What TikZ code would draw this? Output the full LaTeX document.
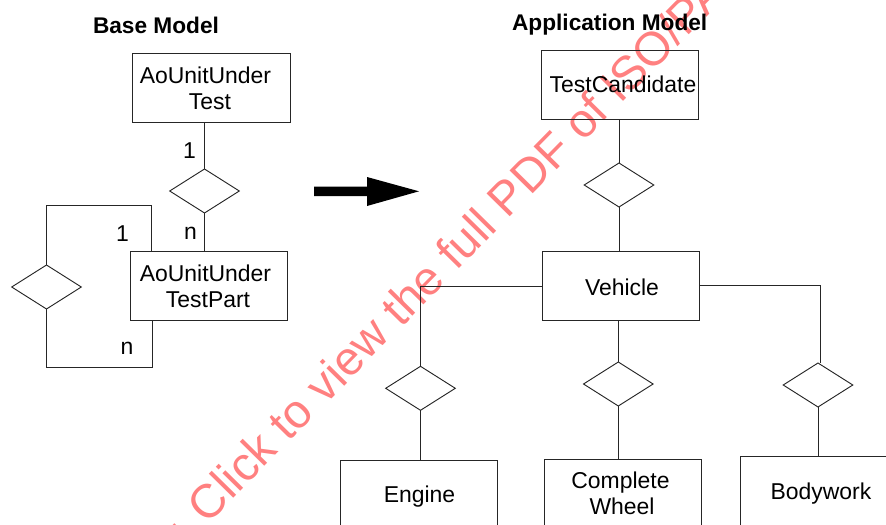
\documentclass[tikz,border=0pt]{standalone}
\usepackage{fontspec}
\setmainfont{Liberation Sans}
\usetikzlibrary{shapes.geometric}
\tikzset{
  every node/.style={inner sep=0pt,outer sep=0pt,font=\fontsize{17.2}{20}\selectfont},
  ln/.style={draw=black!85,line width=0.7pt},
  rel/.style={diamond,ln,minimum width=69.6*0.75pt,minimum height=44*0.75pt,aspect=1.58},
  txt/.style={anchor=base},
  headtxt/.style={anchor=base,font=\fontsize{17}{20}\selectfont\bfseries},
}
\begin{document}
\begin{tikzpicture}[x=0.75pt,y=-0.75pt]
\useasboundingbox (0,0) rectangle (886,525);
\clip (0,0) rectangle (886,525);
% watermark
\node[anchor=base west,rotate=45.5,text=red!50,font=\fontsize{35.5}{40}\selectfont] (wm) at (186,547) {: Click to view the full PDF of ISO/PA};
% boxes
\node[rectangle,ln,minimum width=157.5*0.75pt,minimum height=69*0.75pt] (aut) at (211.5,88.2) {};
\node[rectangle,ln,minimum width=157*0.75pt,minimum height=69*0.75pt] (autp) at (208.8,286.2) {};
\node[rectangle,ln,minimum width=157.4*0.75pt,minimum height=69*0.75pt] (tc) at (620,84.5) {};
\node[rectangle,ln,minimum width=157.3*0.75pt,minimum height=69*0.75pt] (veh) at (620.7,286.2) {};
\node[rectangle,ln,minimum width=157.3*0.75pt,minimum height=90*0.75pt] (eng) at (418.7,505.3) {};
\node[rectangle,ln,minimum width=157.3*0.75pt,minimum height=90*0.75pt] (whl) at (622.7,504) {};
\node[rectangle,ln,minimum width=157.3*0.75pt,minimum height=90*0.75pt] (bod) at (819,501.3) {};
% relationship diamonds
\node[rel] (d1) at (204.5,191) {};
\node[rel] (d2) at (46.5,287) {};
\node[rel] (d3) at (619,185) {};
\node[rel] (d4) at (420.5,388.3) {};
\node[rel] (d5) at (618.3,384) {};
\node[rel] (d6) at (818,385) {};
% connectors
\draw[ln] (d1.north) -- (d1.north |- aut.south);
\draw[ln] (d1.south) -- (d1.south |- autp.north);
\coordinate (lt) at (151.5,205.7);
\coordinate (lb) at (152,367.5);
\draw[ln] (lt |- autp.north) -- (lt) -- (d2.north |- lt) -- (d2.north);
\draw[ln] (d2.south) -- (d2.south |- lb) -- (lb) -- (lb |- autp.south);
\draw[ln] (d3.north) -- (d3.north |- tc.south);
\draw[ln] (d3.south) -- (d3.south |- veh.north);
\coordinate (vl) at (542,286);
\draw[ln] (veh.west |- vl) -- (d4.north |- vl) -- (d4.north);
\draw[ln] (d4.south) -- (d4.south |- eng.north);
\draw[ln] (d5.north) -- (d5.north |- veh.south);
\draw[ln] (d5.south) -- (d5.south |- whl.north);
\coordinate (vr) at (820,285);
\draw[ln] (veh.east |- vr) -- (vr) -- (vr |- d6.north);
\draw[ln] (d6.south) -- (d6.south |- bod.north);
% big arrow
\coordinate (ae) at (419,191.3);
\fill[black] (314,186.7) -- (367,186.7) -- (367,177) -- (ae) -- (367,206) -- (367,196) -- (314,196) -- cycle;
% texts
\node[headtxt] (t1) at (156,33) {Base Model};
\node[headtxt] (t2) at (609.7,30) {Application Model};
\node[txt] (a1) at (205.5,83) {AoUnitUnder};
\node[txt] (a2) at (210,109.5) {Test};
\node[txt] (b1) at (205.5,281) {AoUnitUnder};
\node[txt] (b2) at (208,307) {TestPart};
\node[txt] (tct) at (623,92) {TestCandidate};
\node[txt] (veht) at (622,295) {Vehicle};
\node[txt] (engt) at (419.5,502.7) {Engine};
\node[txt] (wa) at (620.5,488) {Complete};
\node[txt] (wb) at (622,514.7) {Wheel};
\node[txt] (bodt) at (821,499.3) {Bodywork};
\node[txt] (m1) at (189.5,158) {1};
\node[txt] (m2) at (190.5,239.5) {n};
\node[txt] (m3) at (122.5,241.7) {1};
\node[txt] (m4) at (127,354) {n};
\end{tikzpicture}
\end{document}
